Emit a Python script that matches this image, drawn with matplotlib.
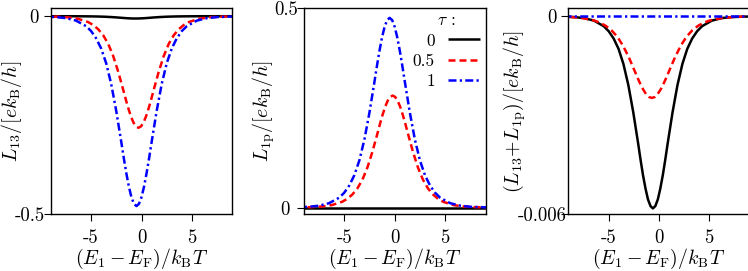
import matplotlib
matplotlib.use('Agg')
import matplotlib.pyplot as plt

plt.rcParams['font.family'] = ['cmr10', 'DejaVu Serif']
plt.rcParams['mathtext.fontset'] = 'cm'
plt.rcParams['axes.unicode_minus'] = False
plt.rcParams['axes.formatter.use_mathtext'] = True

# ---------------- data ----------------
tau_labels = ['0', '0.5', '1']

# tau = 0 : L13 (also the sum, since L1p = 0)
x_black = [-9.86, -8.4, -7.43, -6.45, -5.48, -4.99, -4.5, -4.01, -3.53, -3.04, -2.55, -2.06,
           -1.82, -1.58, -1.33, -1.09, -0.84, -0.6, -0.36, -0.11, 0.13, 0.38, 0.62, 0.86,
           1.35, 1.84, 2.33, 2.81, 3.3, 3.79, 4.28, 5.25, 6.23, 7.2, 9.15]
y_black = [-0.000007, -0.000026, -0.000058, -0.000134, -0.000303, -0.000455, -0.000676,
           -0.000991, -0.001446, -0.002087, -0.002915, -0.003871, -0.004367, -0.004827,
           -0.005235, -0.005556, -0.00576, -0.00583, -0.00576, -0.005556, -0.005235,
           -0.004827, -0.004367, -0.003871, -0.002915, -0.002087, -0.001446, -0.000991,
           -0.000676, -0.000455, -0.000303, -0.000134, -0.000058, -0.000026, -0.000007]

# tau = 0.5 : L13
x_red13 = [-9.8, -8.3, -7.3, -6.3, -5.3, -4.8, -4.3, -3.8, -3.3, -2.8, -2.3, -1.8, -1.55,
           -1.3, -1.05, -0.8, -0.55, -0.3, -0.05, 0.2, 0.45, 0.7, 0.95, 1.2, 1.7, 2.2, 2.7,
           3.2, 3.7, 4.2, 4.7, 5.7, 6.7, 7.7, 9.2]
y_red13 = [-0.0003, -0.0013, -0.0028, -0.0065, -0.0147, -0.0220, -0.0327, -0.0479, -0.0699,
           -0.1010, -0.1410, -0.1872, -0.2112, -0.2335, -0.2532, -0.2687, -0.2786, -0.2820,
           -0.2786, -0.2687, -0.2532, -0.2335, -0.2112, -0.1872, -0.1410, -0.1010, -0.0699,
           -0.0479, -0.0327, -0.0220, -0.0147, -0.0065, -0.0028, -0.0013, -0.0003]

# tau = 1 : L13 and L1p
x_blue = [-10.0, -8.5, -7.5, -6.5, -5.5, -5.0, -4.5, -4.0, -3.5, -3.0, -2.5, -2.0, -1.75,
          -1.5, -1.25, -1.0, -0.75, -0.5, -0.25, 0.0, 0.25, 0.5, 0.75, 1.0, 1.5, 2.0, 2.5,
          3.0, 3.5, 4.0, 4.5, 5.5, 6.5, 7.5, 9.5]
y_blue13 = [-0.0006, -0.0022, -0.0048, -0.0110, -0.0250, -0.0374, -0.0557, -0.0816, -0.1190,
            -0.1718, -0.2400, -0.3187, -0.3595, -0.3974, -0.4310, -0.4574, -0.4742, -0.4800,
            -0.4742, -0.4574, -0.4310, -0.3974, -0.3595, -0.3187, -0.2400, -0.1718, -0.1190,
            -0.0816, -0.0557, -0.0374, -0.0250, -0.0110, -0.0048, -0.0022, -0.0003]
y_blue1p = [0.0006, 0.0021, 0.0048, 0.0110, 0.0248, 0.0371, 0.0552, 0.0809, 0.1180,
            0.1704, 0.2380, 0.3161, 0.3565, 0.3941, 0.4274, 0.4536, 0.4703, 0.4760,
            0.4703, 0.4536, 0.4274, 0.3941, 0.3565, 0.3161, 0.2380, 0.1704, 0.1180,
            0.0809, 0.0552, 0.0371, 0.0248, 0.0110, 0.0048, 0.0021, 0.0003]

# tau = 0.5 : L1p
x_red1p = [-9.7, -8.2, -7.2, -6.2, -5.2, -4.7, -4.2, -3.7, -3.2, -2.7, -2.2, -1.7, -1.45,
           -1.2, -0.95, -0.7, -0.45, -0.2, 0.05, 0.3, 0.55, 0.8, 1.05, 1.3, 1.8, 2.3, 2.8,
           3.3, 3.8, 4.3, 4.8, 5.8, 6.8, 7.8, 9.3]
y_red1p = [0.0003, 0.0013, 0.0028, 0.0065, 0.0146, 0.0219, 0.0326, 0.0478, 0.0697,
           0.1006, 0.1405, 0.1866, 0.2105, 0.2327, 0.2523, 0.2678, 0.2776, 0.2810,
           0.2776, 0.2678, 0.2523, 0.2327, 0.2105, 0.1866, 0.1405, 0.1006, 0.0697,
           0.0478, 0.0326, 0.0219, 0.0146, 0.0065, 0.0028, 0.0013, 0.0003]

# tau = 0.5 : L13 + L1p
x_red_sum = [-9.9, -8.75, -7.6, -6.45, -5.88, -5.3, -4.73, -4.15, -3.58, -3.0, -2.43, -2.14,
             -1.85, -1.56, -1.28, -0.99, -0.7, -0.41, -0.13, 0.16, 0.45, 0.74, 1.03, 1.6,
             2.18, 2.75, 3.33, 3.9, 4.48, 5.05, 6.2, 7.35, 8.5, 10.2]
y_red_sum = [-0.000011, -0.000025, -0.000057, -0.000129, -0.000193, -0.000288, -0.000422,
             -0.000615, -0.000888, -0.00124, -0.001647, -0.001858, -0.002053, -0.002227,
             -0.002363, -0.00245, -0.00248, -0.00245, -0.002363, -0.002227, -0.002053,
             -0.001858, -0.001647, -0.00124, -0.000888, -0.000615, -0.000422, -0.000288,
             -0.000193, -0.000129, -0.000057, -0.000025, -0.000011, -0.000003]

# flat (zero) series
x_flat = [-9.5, 9.5]
y_zero = [0.0, 0.0]

x_ticks = [-5, 0, 5]
x_ticklabels = ['-5', '0', '5']
y_ticks = [[0, -0.5], [0, 0.5], [0, -0.006]]
y_ticklabels = [['0', '-0.5'], ['0', '0.5'], ['0', '-0.006']]
y_limits = [(-0.5, 0.02), (-0.016, 0.5), (-0.006, 0.00024)]
y_labels = [r'$L_{13}/[ek_\mathrm{B}/h]$',
            r'$L_{1\mathrm{p}}/[ek_\mathrm{B}/h]$',
            r'$(L_{13}\!+\!L_{1\mathrm{p}})/[ek_\mathrm{B}/h]$']
x_label = r'$(E_1-E_\mathrm{F})/k_\mathrm{B}T$'

# ---------------- figure ----------------
W, H = 748, 271
fig = plt.figure(figsize=(W / 100, H / 100), dpi=100)


def rect(l, r, t, b):
    return [l / W, 1 - b / H, (r - l) / W, (b - t) / H]


axes = [fig.add_axes(rect(50.7, 232.3, 8.3, 214)),
        fig.add_axes(rect(303.7, 485.7, 8.3, 214)),
        fig.add_axes(rect(568.3, 749.6, 8.3, 214))]

black_kw = dict(color='black', lw=1.8, solid_capstyle='butt')
red_kw = dict(color='#ff0000', lw=1.8, dashes=(2.8, 1.6))
blue_kw = dict(color='#0000ff', lw=1.8, dashes=(3.2, 1.3, 0.9, 1.3))

ax1, ax2, ax3 = axes
ax1.plot(x_black, y_black, **black_kw)
ax1.plot(x_red13, y_red13, **red_kw)
ax1.plot(x_blue, y_blue13, **blue_kw)

l0, = ax2.plot(x_flat, y_zero, **black_kw)
l1, = ax2.plot(x_red1p, y_red1p, **red_kw)
l2, = ax2.plot(x_blue, y_blue1p, **blue_kw)

ax3.plot(x_black, y_black, **black_kw)
ax3.plot(x_red_sum, y_red_sum, **red_kw)
ax3.plot(x_flat, y_zero, **blue_kw)

tick_fs = 13.5
label_fs = 14.3
ylabel_x = [-0.214, -0.222, -0.2975]
ypads = [[3.8, -0.9], [4.9, -0.9], [3.2, -3.8]]

for i, ax in enumerate(axes):
    ax.set_xlim(-9, 9)
    ax.set_ylim(*y_limits[i])
    ax.set_xticks(x_ticks)
    ax.set_xticklabels(x_ticklabels)
    ax.set_yticks(y_ticks[i])
    ax.set_yticklabels(y_ticklabels[i])
    ax.tick_params(direction='out', length=5, width=0.8, labelsize=tick_fs,
                   top=False, right=False)
    ax.tick_params(axis='x', pad=5.6)
    for t, p in zip(ax.yaxis.get_major_ticks(), ypads[i]):
        t.set_pad(p)
    for s in ax.spines.values():
        s.set_linewidth(1.0)
    ax.text(0.5, -0.2195, x_label, transform=ax.transAxes, ha='center', va='center',
            fontsize=label_fs)
    ax.text(ylabel_x[i], 0.5, y_labels[i], transform=ax.transAxes, ha='center',
            va='center', rotation=90, fontsize=label_fs)

leg = ax2.legend([l0, l1, l2], tau_labels, title=r'$\tau$ :', loc='upper right',
                 bbox_to_anchor=(0.9687, 0.977), borderaxespad=0, borderpad=0,
                 frameon=False, markerfirst=False, fontsize=12.5, title_fontsize=12.5,
                 handlelength=1.85, handletextpad=0.75, labelspacing=0.28)

fig.savefig('out.png', dpi=100)
